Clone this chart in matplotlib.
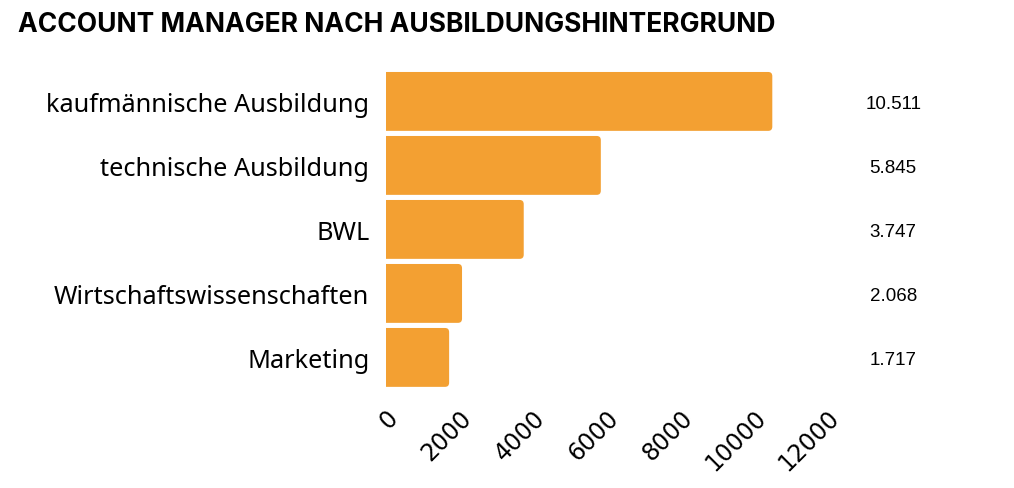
import matplotlib.pyplot as plt
from matplotlib.patches import FancyBboxPatch

categories = ['kaufmännische Ausbildung', 'technische Ausbildung', 'BWL',
              'Wirtschaftswissenschaften', 'Marketing']
values = [10511, 5845, 3747, 2068, 1717]
value_labels = ['10.511', '5.845', '3.747', '2.068', '1.717']
xticks = [0, 2000, 4000, 6000, 8000, 10000, 12000]

bar_color = '#F3A032'

fig = plt.figure(figsize=(10.14, 4.89), dpi=100)
ax = fig.add_axes([0.3807, 0.2016, 0.4349, 0.6544])

ys = list(range(len(categories)))[::-1]
h = 0.92
r = 110  # corner radius in x units
for y, v in zip(ys, values):
    # start left of 0 so the left corners get clipped away -> square left edge
    box = FancyBboxPatch((-3 * r, y - h / 2), v + 3 * r, h,
                         boxstyle=f'round,pad=0,rounding_size={r}',
                         mutation_aspect=0.065 / r,
                         facecolor=bar_color, linewidth=0)
    ax.add_patch(box)

ax.set_xlim(0, 12000)
ax.set_ylim(-0.5, 4.5)
ax.set_yticks(ys)
ax.set_yticklabels(categories, fontsize=18.2, family='Noto Sans')
ax.set_xticks(xticks)
ax.set_xticklabels([str(t) for t in xticks], rotation=45, ha='right',
                   rotation_mode='anchor', fontsize=17, family='DejaVu Sans')
ax.tick_params(length=0)
ax.tick_params(axis='x', pad=11)
ax.tick_params(axis='y', pad=12)
for s in ax.spines.values():
    s.set_visible(False)

for y, lab in zip(ys, value_labels):
    ax.text(13800, y - 0.03, lab, ha='center', va='center', fontsize=13.5,
            family='Liberation Sans', clip_on=False)

fig.text(0.018, 0.948, 'ACCOUNT MANAGER NACH AUSBILDUNGSHINTERGRUND',
         fontsize=19, fontweight='bold', family='Inter', va='center')

fig.savefig('out.png', dpi=100)
